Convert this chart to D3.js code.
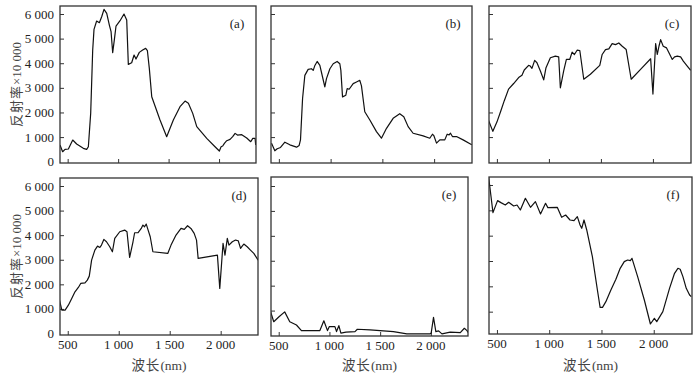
<!DOCTYPE html>
<html>
<head>
<meta charset="utf-8">
<script src="https://cdn.jsdelivr.net/npm/d3@7"></script>
<style>
  body { margin: 0; background: #fff; }
  svg { display: block; }
  text { font-family: "Liberation Serif", "Times New Roman", serif; fill: #222; }
  .cn { font-family: "Noto Sans CJK SC", "Liberation Serif", serif; }
</style>
</head>
<body>
<svg id="chart" width="699" height="376"></svg>
<script>
// tick values
var yTicks = [0, 1000, 2000, 3000, 4000, 5000, 6000];
var xTicks = [500, 1000, 1500, 2000];
var panelNames = ['(a)', '(b)', '(c)', '(d)', '(e)', '(f)'];

// spectra: wavelength (nm) and reflectance x 10000
var wlA = [424,450,474,507,550,589,655,688,705,728,748,761,787,814,837,860,887,913,930,946,963,979,1019,1058,1085,1101,1134,1158,1177,1210,1243,1273,1290,1309,1333,1415,1481,1547,1613,1663,1696,1739,1779,1878,1960,2003,2020,2036,2053,2076,2109,2135,2159,2182,2225,2274,2314,2334,2357,2363];
var refA = [677,406,501,515,880,718,542,501,609,1963,4536,5375,5714,5646,5890,6188,6025,5551,5281,4428,4969,5511,5727,5998,5755,3954,4021,4333,4170,4441,4536,4604,4509,3791,2640,1693,1016,1693,2234,2464,2370,1963,1422,948,609,433,609,636,745,853,907,1016,1151,1083,1097,961,812,948,948,677];

var wlB = [429,461,484,516,558,606,671,696,709,729,751,783,815,832,848,870,896,922,944,960,993,1025,1063,1089,1099,1115,1147,1160,1179,1218,1250,1282,1298,1330,1379,1443,1491,1540,1604,1668,1707,1749,1797,1894,1958,1984,1997,2023,2055,2103,2126,2145,2158,2177,2216,2280,2364];
var refB = [753,444,524,578,793,685,591,659,887,2567,3508,3750,3777,3709,3911,4072,3911,3441,3037,3373,3777,3978,4072,3978,3709,2634,2701,2970,2943,3172,3239,3306,3078,2029,1693,1223,954,1357,1761,1949,1828,1425,1156,1048,954,1116,1062,753,887,887,1116,1089,1156,1021,1021,887,685];

var wlC = [420,461,500,539,571,612,661,709,741,763,805,821,837,863,885,918,950,972,1014,1062,1094,1110,1142,1168,1200,1223,1245,1271,1297,1335,1399,1489,1512,1544,1576,1608,1640,1672,1705,1743,1791,1881,1978,2000,2026,2042,2058,2074,2099,2131,2154,2186,2208,2234,2266,2292,2330,2363];
var refC = [1675,1233,1608,2077,2479,2948,3176,3417,3511,3725,3913,3886,3792,4114,4020,3685,3323,3819,4221,4288,4261,3002,3685,4154,4154,4449,4355,4529,4516,3350,3551,3913,4355,4556,4583,4797,4757,4824,4690,4556,3350,3752,4181,2747,4797,4355,4690,4958,4690,4623,4422,4154,4261,4288,4261,4087,3886,3712];

var wlD = [419,442,474,506,539,571,604,627,669,692,711,734,766,792,815,831,854,880,912,938,961,1010,1058,1081,1107,1140,1156,1188,1221,1237,1253,1270,1286,1309,1335,1481,1513,1562,1611,1643,1675,1708,1740,1763,1779,1968,1991,2023,2042,2065,2081,2114,2146,2172,2195,2211,2227,2260,2292,2325,2367];
var refD = [1357,950,950,1153,1425,1696,1873,2036,2063,2171,2334,2985,3393,3555,3501,3596,3827,3732,3528,3325,3867,4139,4207,4139,3094,3732,4098,4098,4275,4410,4342,4451,4234,3935,3325,3257,3596,4003,4275,4234,4383,4275,4071,3800,3053,3189,1832,3664,3189,3867,3596,3732,3800,3773,3460,3555,3637,3528,3393,3257,2985];

var wlE = [421,451,503,559,609,675,724,906,945,981,998,1054,1070,1093,1113,1163,1252,1275,1400,1631,1763,1994,2003,2026,2049,2076,2109,2191,2290,2330,2356,2373];
var refE = [948,553,750,948,553,421,197,197,592,197,355,355,158,395,92,132,158,250,224,158,66,66,92,724,158,184,66,132,118,290,197,92];

var wlF = [420,462,506,538,580,612,660,692,724,772,821,868,917,965,987,1077,1119,1157,1199,1237,1269,1295,1311,1333,1359,1413,1461,1487,1510,1542,1590,1638,1679,1718,1750,1776,1792,1846,1910,1968,2006,2029,2087,2151,2199,2231,2253,2279,2311,2343,2359];
var refF = [6330,4909,5383,5304,5211,5317,5172,5211,5014,5475,5119,5343,4856,5277,5106,5119,4724,4816,4619,4593,4751,4422,4290,4619,4224,3172,1856,1171,1171,1395,1856,2277,2711,2974,3040,3014,3106,2382,1461,513,737,605,1000,1921,2514,2711,2672,2382,1921,1658,1592];

var svg = d3.select('#chart');
var fmt = d3.formatLocale({decimal: '.', thousands: ' ', grouping: [3], currency: ['', '']}).format(',');

// frame boxes and where 0 / 6000 sit on the page
var panels = [
  {x0: 60,  x1: 256, y0: 6,   y1: 163, zero: 161.7, top6k: 14,  wl: wlA, r: refA, yLab: true,  xLab: false},
  {x0: 271, x1: 472, y0: 6,   y1: 163, zero: 161.7, top6k: 14,  wl: wlB, r: refB, yLab: false, xLab: false},
  {x0: 489, x1: 691, y0: 6,   y1: 163, zero: 161.7, top6k: 14,  wl: wlC, r: refC, yLab: false, xLab: false},
  {x0: 60,  x1: 258, y0: 178, y1: 335, zero: 333.5, top6k: 186, wl: wlD, r: refD, yLab: true,  xLab: true},
  {x0: 271, x1: 468, y0: 177, y1: 336, zero: 335.5, top6k: 186, wl: wlE, r: refE, yLab: false, xLab: true},
  {x0: 489, x1: 692, y0: 177, y1: 334, zero: 337,   top6k: 185, wl: wlF, r: refF, yLab: false, xLab: true}
];

panels.forEach(function(p, i) {
  var x = d3.scaleLinear().domain([424, 2366]).range([p.x0, p.x1]);
  var y = d3.scaleLinear().domain([0, 6000]).range([p.zero, p.top6k]);

  var g = svg.append('g');

  g.append('clipPath').attr('id', 'clip' + i)
    .append('rect')
    .attr('x', p.x0).attr('y', p.y0)
    .attr('width', p.x1 - p.x0).attr('height', p.y1 - p.y0);

  // inward ticks on the left and bottom
  var yAxis = d3.axisRight(y).tickValues(yTicks.slice(1)).tickSize(4).tickFormat('');
  g.append('g').attr('transform', 'translate(' + p.x0 + ',0)').call(yAxis)
    .call(function(s) { s.select('.domain').remove(); })
    .selectAll('line').attr('stroke', '#333');

  var xAxis = d3.axisTop(x).tickValues(xTicks).tickSize(4).tickFormat('');
  g.append('g').attr('transform', 'translate(0,' + p.y1 + ')').call(xAxis)
    .call(function(s) { s.select('.domain').remove(); })
    .selectAll('line').attr('stroke', '#333');

  if (p.yLab) {
    g.selectAll('.ylab').data(yTicks).enter().append('text')
      .attr('x', p.x0 - 6)
      .attr('y', function(d) { return y(d) + 4.5; })
      .attr('text-anchor', 'end')
      .attr('font-size', 13)
      .text(function(d) { return fmt(d); });

    var yt = g.append('text')
      .attr('transform', 'translate(21,' + ((p.y0 + p.y1) / 2) + ') rotate(-90)')
      .attr('text-anchor', 'middle')
      .attr('font-size', 13)
      .style('fill', '#444');
    yt.append('tspan').attr('class', 'cn').attr('letter-spacing', 1).text('反射率');
    yt.append('tspan').text('×10 000');
  }

  if (p.xLab) {
    g.selectAll('.xlab').data(xTicks).enter().append('text')
      .attr('x', function(d) { return x(d); })
      .attr('y', p.y1 + 14)
      .attr('text-anchor', 'middle')
      .attr('font-size', 13)
      .text(function(d) { return fmt(d); });

    var xt = g.append('text')
      .attr('x', (p.x0 + p.x1) / 2)
      .attr('y', 370)
      .attr('text-anchor', 'middle')
      .attr('font-size', 13.5)
      .style('fill', '#444');
    xt.append('tspan').attr('class', 'cn').attr('letter-spacing', 1).text('波长');
    xt.append('tspan').text('(nm)');
  }

  var line = d3.line()
    .x(function(d) { return x(d[0]); })
    .y(function(d) { return y(d[1]); });

  g.append('path')
    .datum(d3.zip(p.wl, p.r))
    .attr('clip-path', 'url(#clip' + i + ')')
    .attr('d', line)
    .attr('fill', 'none')
    .attr('stroke', '#111')
    .attr('stroke-width', 1.2)
    .attr('stroke-linejoin', 'round');

  g.append('rect')
    .attr('x', p.x0).attr('y', p.y0)
    .attr('width', p.x1 - p.x0).attr('height', p.y1 - p.y0)
    .attr('fill', 'none')
    .attr('stroke', '#333')
    .attr('stroke-width', 1.3);

  g.append('text')
    .attr('x', p.x1 - 19)
    .attr('y', p.y0 + 22)
    .attr('text-anchor', 'middle')
    .attr('font-size', 13)
    .text(panelNames[i]);
});
</script>
</body>
</html>
